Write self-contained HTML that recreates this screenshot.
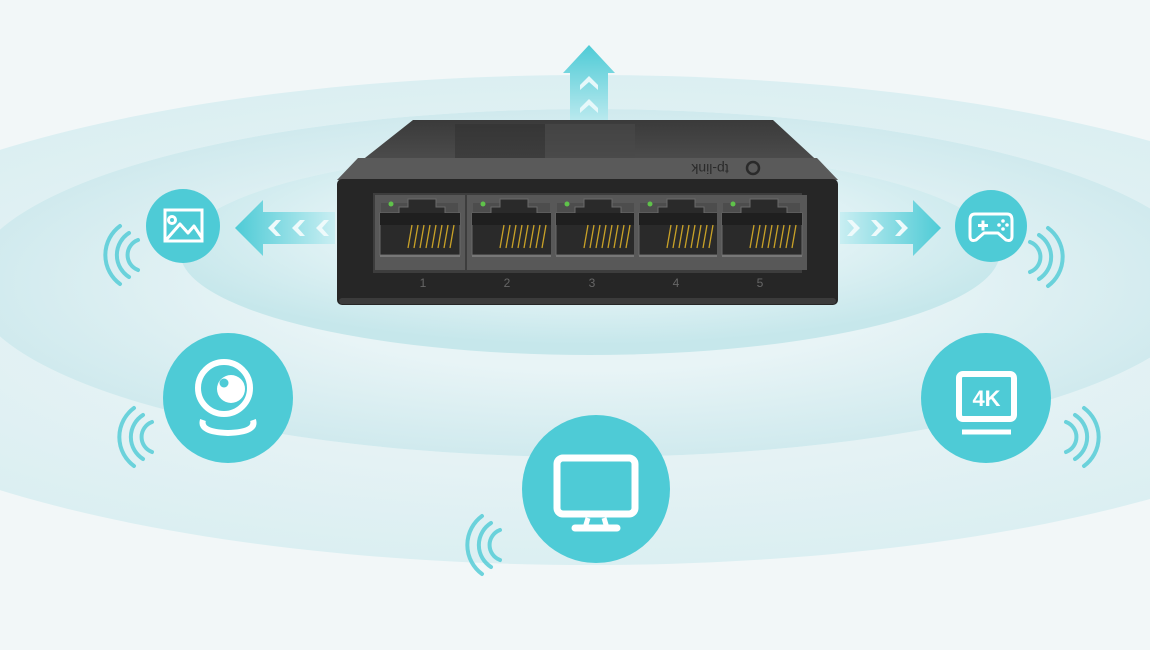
<!DOCTYPE html>
<html><head><meta charset="utf-8"><style>
html,body{margin:0;padding:0;background:#f2f7f8;}
svg{display:block;}
</style></head><body>
<svg width="1150" height="650" viewBox="0 0 1150 650" xmlns="http://www.w3.org/2000/svg">
<defs>
<radialGradient id="g1" cx="50%" cy="50%" r="50%">
<stop offset="0.6" stop-color="#e5f2f4"/><stop offset="1" stop-color="#dbeff2"/></radialGradient>
<radialGradient id="g2" cx="50%" cy="50%" r="50%">
<stop offset="0.5" stop-color="#e8f4f6"/><stop offset="1" stop-color="#d0eaee"/></radialGradient>
<radialGradient id="g3" cx="50%" cy="40%" r="55%">
<stop offset="0.4" stop-color="#eaf6f8"/><stop offset="1" stop-color="#c6e7eb"/></radialGradient>
<linearGradient id="au" x1="0" y1="0" x2="0" y2="1"><stop offset="0" stop-color="#4ecbd6"/><stop offset="1" stop-color="#b9e9ee"/></linearGradient>
<linearGradient id="al" x1="0" y1="0" x2="1" y2="0"><stop offset="0" stop-color="#4ecbd6"/><stop offset="1" stop-color="#c9eef2"/></linearGradient>
<linearGradient id="ar" x1="1" y1="0" x2="0" y2="0"><stop offset="0" stop-color="#4ecbd6"/><stop offset="1" stop-color="#c9eef2"/></linearGradient>
<linearGradient id="top" x1="0" y1="0" x2="0" y2="1"><stop offset="0" stop-color="#3a3a3a"/><stop offset="1" stop-color="#555"/></linearGradient>
<g id="port">
<rect x="0" y="0" width="90" height="75" fill="#585858"/>
<path d="M6 8 H83 V62 H6 Z" fill="#4d4d4d"/>
<path d="M33 4 H61 V12 H70 V18 H85 V60 H5 V18 H24 V12 H33 Z" fill="#2a2a2a" stroke="#6a6a6a" stroke-width="1"/>
<path d="M5 18 H85 V30 H5 Z" fill="#1f1f1f"/>
<g stroke="#c9a227" stroke-width="1.3">
<line x1="33" y1="53" x2="37" y2="30"/><line x1="39" y1="53" x2="43" y2="30"/><line x1="45" y1="53" x2="49" y2="30"/><line x1="51" y1="53" x2="55" y2="30"/><line x1="57" y1="53" x2="61" y2="30"/><line x1="63" y1="53" x2="67" y2="30"/><line x1="69" y1="53" x2="73" y2="30"/><line x1="75" y1="53" x2="79" y2="30"/>
</g>
<rect x="5" y="60" width="80" height="2" fill="#777"/>
<circle cx="16" cy="9" r="2.5" fill="#5fc24a"/>
</g>
<g id="waves" fill="none" stroke="#4ecbd6" stroke-width="4" stroke-linecap="round" opacity="0.8">
<path d="M0 -10 A16 16 0 0 0 0 20"/>
<path d="M-9 -17 A26 26 0 0 0 -9 27"/>
<path d="M-18 -24 A36 36 0 0 0 -18 34"/>
</g>
</defs>
<rect width="1150" height="650" fill="#f2f7f8"/>
<ellipse cx="590" cy="320" rx="820" ry="245" fill="url(#g1)"/>
<ellipse cx="590" cy="283" rx="620" ry="174" fill="#f1f8f9"/>
<ellipse cx="590" cy="283" rx="620" ry="174" fill="url(#g2)"/>
<ellipse cx="590" cy="252" rx="410" ry="103" fill="#eaf6f7"/>
<ellipse cx="590" cy="252" rx="410" ry="103" fill="url(#g3)"/>

<path d="M589 45 L615 73 L608 73 L608 120 L570 120 L570 73 L563 73 Z" fill="url(#au)"/>
<path d="M580 85 L589 76 L598 85 L598 90 L589 82 L580 90 Z M580 108 L589 99 L598 108 L598 113 L589 105 L580 113 Z" fill="#e6f8fa"/>
<path d="M235 228 L263 200 L263 212 L335 212 L335 244 L263 244 L263 256 Z" fill="url(#al)"/>
<g fill="#eefafb"><path d="M268 228 L276 220 L281 220 L274 228 L281 236 L276 236 Z"/><path d="M292 228 L300 220 L305 220 L298 228 L305 236 L300 236 Z"/><path d="M316 228 L324 220 L329 220 L322 228 L329 236 L324 236 Z"/></g>
<path d="M941 228 L913 200 L913 212 L840 212 L840 244 L913 244 L913 256 Z" fill="url(#ar)"/>
<g fill="#eefafb"><path d="M860 228 L852 220 L847 220 L854 228 L847 236 L852 236 Z"/><path d="M884 228 L876 220 L871 220 L878 228 L871 236 L876 236 Z"/><path d="M908 228 L900 220 L895 220 L902 228 L895 236 L900 236 Z"/></g>

<path d="M413 120 L773 120 L838 180 L337 180 Z" fill="url(#top)"/>
<path d="M455 124 L545 124 L545 158 L455 158 Z" fill="#2f2f2f" opacity="0.5"/>
<path d="M545 124 L635 124 L635 158 L545 158 Z" fill="#4a4a4a" opacity="0.6"/>
<path d="M358 158 L817 158 L838 180 L337 180 Z" fill="#5a5a5a"/>
<text x="710" y="172" transform="rotate(180 710 168)" font-family="Liberation Sans, sans-serif" font-size="14" fill="#2a2a2a" text-anchor="middle">tp-link</text>
<circle cx="753" cy="168" r="6" fill="none" stroke="#2a2a2a" stroke-width="2.5"/>
<rect x="337" y="179" width="501" height="126" rx="5" fill="#262626"/>
<rect x="339" y="298" width="497" height="6" rx="3" fill="#3b3b3b"/>
<rect x="373" y="193" width="429" height="80" fill="#3d3d3d"/>
<use href="#port" x="375" y="195"/>
<use href="#port" x="467" y="195"/>
<use href="#port" x="551" y="195"/>
<use href="#port" x="634" y="195"/>
<use href="#port" x="717" y="195"/>
<g font-family="Liberation Sans, sans-serif" font-size="12" fill="#666" text-anchor="middle">
<text x="423" y="287">1</text><text x="507" y="287">2</text><text x="592" y="287">3</text><text x="676" y="287">4</text><text x="760" y="287">5</text></g>

<g fill="#4ecbd6">
<circle cx="183" cy="226" r="37"/>
<circle cx="991" cy="226" r="36"/>
<circle cx="228" cy="398" r="65"/>
<circle cx="986" cy="398" r="65"/>
<circle cx="596" cy="489" r="74"/>
</g>
<use href="#waves" x="138" y="250"/>
<use href="#waves" x="152" y="432"/>
<use href="#waves" x="500" y="540"/>
<use href="#waves" x="1030" y="252" transform="translate(2060,0) scale(-1,1)"/>
<use href="#waves" x="1066" y="432" transform="translate(2132,0) scale(-1,1)"/>

<g fill="none" stroke="#fff" stroke-width="3">
<rect x="165" y="210" width="37" height="31"/>
<circle cx="172" cy="220" r="3.5"/>
<path d="M166 240 L180 224 L188 233 L194 226 L202 238" stroke-linejoin="round"/>
<path d="M975 214 H1007 Q1012 214 1012 220 L1012 236 Q1012 242 1006 240 L998 233 H984 L976 240 Q970 242 970 236 L970 220 Q970 214 975 214 Z" stroke-linejoin="round"/>
<circle cx="224" cy="388" r="26" stroke-width="6"/>
<path d="M203 420 Q199 432 228 433 Q257 432 253 420" stroke-width="6"/>
<rect x="557" y="458" width="78" height="56" rx="6" stroke-width="7"/>
<path d="M575 528 H617" stroke-width="7" stroke-linecap="round"/>
<path d="M588 518 L585 528 M604 518 L607 528" stroke-width="5"/>
<rect x="959" y="374" width="55" height="45" rx="4" stroke-width="6"/>
<path d="M962 432 H1011" stroke-width="5"/>
</g>
<circle cx="231" cy="389" r="14" fill="#fff"/>
<circle cx="224" cy="383" r="4.5" fill="#4ecbd6"/>
<g fill="#fff"><rect x="978" y="224" width="10" height="3"/><rect x="981.5" y="220.5" width="3" height="10"/>
<circle cx="1003" cy="221" r="1.8"/><circle cx="999" cy="225" r="1.8"/><circle cx="1007" cy="225" r="1.8"/><circle cx="1003" cy="229" r="1.8"/></g>
<text x="986.5" y="406" font-family="Liberation Sans, sans-serif" font-weight="bold" font-size="22" fill="#fff" text-anchor="middle">4K</text>
</svg>
</body></html>
